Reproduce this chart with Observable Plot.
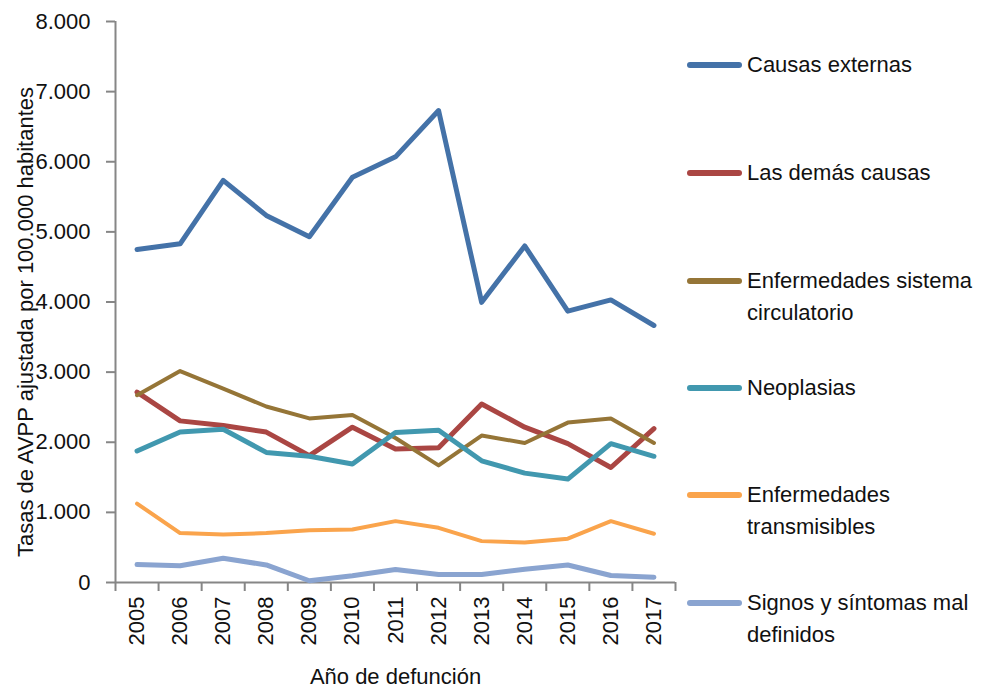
<!DOCTYPE html>
<html>
<head>
<meta charset="utf-8">
<script src="https://cdn.jsdelivr.net/npm/d3@7"></script>
<script src="https://cdn.jsdelivr.net/npm/@observablehq/plot@0.6"></script>
<style>
  html, body { margin: 0; padding: 0; background: #fff; }
  #wrap { position: relative; width: 985px; height: 692px; font-family: "Liberation Sans", Arial, sans-serif; }
  #chart { position: absolute; left: 0; top: 0; }
  .leg { position: absolute; left: 687px; display: flex; align-items: flex-start; font-size: 22px; line-height: 32px; color: #111; }
  .sw { width: 55px; height: 6px; border-radius: 3px; margin-top: 13px; margin-right: 5px; flex: none; }
</style>
</head>
<body>
<div id="wrap"><div id="chart"></div></div>
<script>
const years = [2005, 2006, 2007, 2008, 2009, 2010, 2011, 2012, 2013, 2014, 2015, 2016, 2017];
const seriesNames = ["Causas externas", "Las demás causas", "Enfermedades sistema circulatorio", "Neoplasias", "Enfermedades transmisibles", "Signos y síntomas mal definidos"];
const legendLines = [["Causas externas"], ["Las demás causas"], ["Enfermedades sistema", "circulatorio"], ["Neoplasias"], ["Enfermedades", "transmisibles"], ["Signos y síntomas mal", "definidos"]];
const causasExternas = [4750, 4830, 5735, 5235, 4930, 5780, 6070, 6730, 3995, 4800, 3870, 4030, 3665];
const demasCausas    = [2715, 2305, 2240, 2145, 1810, 2215, 1905, 1920, 2545, 2215, 1980, 1640, 2195];
const circulatorio   = [2670, 3015, 2765, 2510, 2340, 2390, 2060, 1670, 2095, 1990, 2280, 2340, 1990];
const neoplasias     = [1875, 2145, 2185, 1855, 1800, 1690, 2140, 2170, 1735, 1560, 1475, 1980, 1800];
const transmisibles  = [1125, 705, 685, 705, 745, 755, 875, 780, 590, 570, 625, 875, 695];
const signos         = [255, 240, 345, 250, 25, 95, 185, 115, 115, 190, 250, 100, 75];
const yTicks = [0, 1000, 2000, 3000, 4000, 5000, 6000, 7000, 8000];
const yLabel = "Tasas de AVPP ajustada por 100.000 habitantes";
const xLabel = "Año de defunción";

const colors = ["#4472A8", "#AA4643", "#957537", "#4198AF", "#FAA44C", "#8AA4D0"];
const widths = [5, 5, 4, 5, 4, 5];
const allValues = [causasExternas, demasCausas, circulatorio, neoplasias, transmisibles, signos];

const fmt = d3.formatLocale({decimal: ",", thousands: ".", grouping: [3], currency: ["", ""]}).format(",");
const boundaries = years.map(y => y - 0.5).concat([years[years.length - 1] + 0.5]);

const lineMarks = allValues.map((vals, i) =>
  Plot.line(years.map((y, j) => ({year: y, value: vals[j]})), {
    x: "year", y: "value", stroke: colors[i], strokeWidth: widths[i], strokeLinejoin: "round", strokeLinecap: "round"
  })
);

const grey = "#868686";
const plot = Plot.plot({
  width: 680,
  height: 692,
  marginLeft: 115,
  marginRight: 5,
  marginTop: 21,
  marginBottom: 110,
  style: {fontFamily: "'Liberation Sans', Arial, sans-serif", fontSize: "22px", color: "#111", background: "white"},
  x: {domain: [years[0] - 0.5, years[years.length - 1] + 0.5]},
  y: {domain: [0, 8000]},
  marks: [
    Plot.ruleY([0], {stroke: grey, strokeWidth: 2}),
    Plot.ruleX([years[0] - 0.5], {stroke: grey, strokeWidth: 2}),
    Plot.axisY({ticks: yTicks, tickFormat: fmt, tickSize: 9, tickPadding: 16, stroke: grey, strokeWidth: 2, label: null, fontSize: 22}),
    Plot.axisX({ticks: boundaries, tickFormat: () => "", tickSize: 9, stroke: grey, strokeWidth: 2, label: null}),
    Plot.axisX({ticks: years, tickFormat: d => String(d), tickSize: 0, tickPadding: 14, tickRotate: -90, label: null, fontSize: 22}),
    ...lineMarks,
    Plot.text([yLabel], {frameAnchor: "left", textAnchor: "middle", rotate: -90, dx: -90, dy: 20, lineAnchor: "middle", fontSize: 22, fill: "#111"}),
    Plot.text([xLabel], {frameAnchor: "bottom", dy: 94, lineAnchor: "middle", fontSize: 22, fill: "#111"})
  ]
});
document.getElementById("chart").appendChild(plot);

const legendTops = [49, 157, 265, 372, 479, 587];
const wrap = document.getElementById("wrap");
seriesNames.forEach((name, i) => {
  const item = document.createElement("div");
  item.className = "leg";
  item.style.top = legendTops[i] + "px";
  const sw = document.createElement("div");
  sw.className = "sw";
  sw.style.background = colors[i];
  const txt = document.createElement("div");
  txt.innerHTML = legendLines[i].join("<br>");
  item.appendChild(sw);
  item.appendChild(txt);
  wrap.appendChild(item);
});
</script>
</body>
</html>
